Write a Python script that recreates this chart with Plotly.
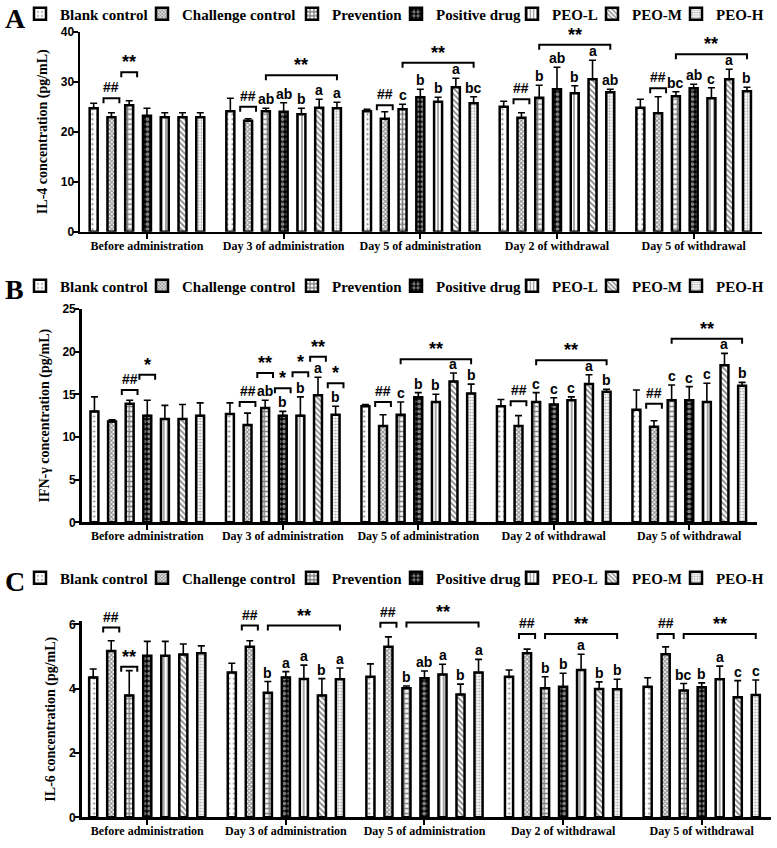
import plotly.graph_objects as go

W, H = 777, 848

# ---------------- data ----------------
categories = ["Before administration", "Day 3 of administration", "Day 5 of administration",
              "Day 2 of withdrawal", "Day 5 of withdrawal"]
series_names = ["Blank control", "Challenge control", "Prevention", "Positive drug",
                "PEO-L", "PEO-M", "PEO-H"]

# IL-4 (pg/mL) – rows follow series_names, columns follow categories
il4_mean = [
    [24.7, 24.1, 24.1, 25.0, 24.8],
    [22.9, 22.2, 22.6, 22.8, 23.7],
    [25.3, 24.1, 24.5, 26.8, 27.1],
    [23.2, 24.0, 26.9, 28.5, 28.7],
    [22.9, 23.5, 26.0, 27.7, 26.7],
    [22.9, 24.8, 28.9, 30.5, 30.5],
    [22.9, 24.7, 25.7, 27.9, 28.1],
]
il4_err = [
    [1.0, 2.6, 0.4, 1.1, 1.7],
    [0.9, 0.4, 1.4, 1.0, 3.3],
    [0.9, 0.6, 1.0, 2.5, 0.9],
    [1.5, 1.8, 1.6, 4.4, 0.8],
    [0.9, 1.2, 0.9, 1.5, 2.1],
    [0.9, 1.7, 1.8, 3.8, 2.0],
    [0.9, 1.2, 1.3, 0.6, 0.8],
]
il4_letters = [
    ["", "", "", "", ""],
    ["", "", "", "", ""],
    ["", "ab", "c", "b", "bc"],
    ["", "ab", "b", "ab", "ab"],
    ["", "b", "b", "b", "c"],
    ["", "a", "a", "a", "a"],
    ["", "a", "bc", "ab", "b"],
]
# (category, first bar, last bar, bracket height, mark)
il4_brackets = [(0, 1, 1, 26.7, "##"), (0, 2, 2, 31.9, "**"),
                (1, 1, 1, 25.0, "##"), (1, 2, 6, 31.3, "**"),
                (2, 1, 1, 25.3, "##"), (2, 2, 6, 33.8, "**"),
                (3, 1, 1, 26.5, "##"), (3, 2, 6, 37.4, "**"),
                (4, 1, 1, 28.7, "##"), (4, 2, 6, 35.5, "**")]

# IFN-gamma (pg/mL)
ifn_mean = [
    [13.0, 12.7, 13.6, 13.6, 13.2],
    [11.8, 11.4, 11.3, 11.3, 11.2],
    [13.9, 13.4, 12.6, 14.1, 14.3],
    [12.5, 12.5, 14.65, 13.8, 14.3],
    [12.1, 12.5, 14.1, 14.3, 14.1],
    [12.1, 14.9, 16.5, 16.2, 18.4],
    [12.5, 12.6, 15.1, 15.3, 16.0],
]
ifn_err = [
    [1.7, 1.3, 0.2, 0.8, 2.3],
    [0.2, 1.4, 1.3, 1.2, 0.7],
    [0.4, 0.9, 1.5, 1.1, 1.8],
    [1.8, 0.5, 0.55, 0.8, 1.6],
    [1.6, 2.2, 0.9, 0.4, 2.2],
    [1.7, 2.1, 1.0, 1.1, 1.4],
    [1.5, 1.0, 1.1, 0.3, 0.4],
]
ifn_letters = [
    ["", "", "", "", ""],
    ["", "", "", "", ""],
    ["", "ab", "c", "c", "c"],
    ["", "b", "b", "c", "c"],
    ["", "b", "b", "c", "c"],
    ["", "a", "a", "a", "a"],
    ["", "b", "b", "b", "b"],
]
ifn_brackets = [(0, 2, 2, 15.5, "##"), (0, 3, 3, 17.3, "*"),
                (1, 1, 1, 14.1, "##"), (1, 2, 2, 17.5, "**"), (1, 3, 3, 15.7, "*"),
                (1, 4, 4, 17.6, "*"), (1, 5, 5, 19.4, "**"), (1, 6, 6, 16.3, "*"),
                (2, 1, 1, 14.1, "##"), (2, 2, 6, 19.1, "**"),
                (3, 1, 1, 14.2, "##"), (3, 2, 6, 19.0, "**"),
                (4, 1, 1, 13.9, "##"), (4, 2, 6, 21.5, "**")]

# IL-6 (pg/mL)
il6_mean = [
    [4.35, 4.50, 4.37, 4.37, 4.06],
    [5.17, 5.30, 5.30, 5.10, 5.07],
    [3.79, 3.87, 4.01, 4.01, 3.94],
    [5.02, 4.35, 4.32, 4.06, 4.04],
    [5.02, 4.30, 4.44, 4.58, 4.29],
    [5.06, 3.79, 3.82, 3.99, 3.73],
    [5.10, 4.29, 4.50, 3.98, 3.80],
]
il6_err = [
    [0.26, 0.29, 0.40, 0.21, 0.28],
    [0.32, 0.19, 0.31, 0.13, 0.23],
    [0.77, 0.35, 0.07, 0.36, 0.22],
    [0.45, 0.18, 0.23, 0.42, 0.14],
    [0.45, 0.43, 0.32, 0.49, 0.41],
    [0.33, 0.52, 0.32, 0.22, 0.52],
    [0.23, 0.35, 0.41, 0.31, 0.47],
]
il6_letters = [
    ["", "", "", "", ""],
    ["", "", "", "", ""],
    ["", "b", "b", "b", "bc"],
    ["", "a", "ab", "b", "b"],
    ["", "a", "a", "a", "a"],
    ["", "b", "b", "b", "c"],
    ["", "a", "a", "b", "c"],
]
il6_brackets = [(0, 1, 1, 5.90, "##"), (0, 2, 2, 4.68, "**"),
                (1, 1, 1, 5.96, "##"), (1, 2, 6, 5.96, "**"),
                (2, 1, 1, 6.05, "##"), (2, 2, 6, 6.06, "**"),
                (3, 1, 1, 5.70, "##"), (3, 2, 6, 5.70, "**"),
                (4, 1, 1, 5.70, "##"), (4, 2, 6, 5.70, "**")]

y_titles = ["IL-4 concentration (pg/mL)", "IFN-\u03b3 concentration (pg/mL)", "IL-6 concentration (pg/mL)"]
y_ticks = [[0, 10, 20, 30, 40], [0, 5, 10, 15, 20, 25], [0, 2, 4, 6]]
panel_labels = ["A", "B", "C"]

# ---------------- styles ----------------
SERIF = "Liberation Serif"
SANS = "Liberation Sans"
styles = [
    dict(color="white", pattern=dict(shape=".", fgcolor="black", bgcolor="white", size=5, solidity=0.15)),
    dict(color="white", pattern=dict(shape="x", fgcolor="#222222", bgcolor="white", size=3, solidity=0.6)),
    dict(color="white", pattern=dict(shape="+", fgcolor="black", bgcolor="white", size=5, solidity=0.55)),
    dict(color="black", pattern=dict(shape=".", fgcolor="white", bgcolor="black", size=5, solidity=0.5)),
    dict(color="white", pattern=dict(shape="|", fgcolor="black", bgcolor="white", size=4, solidity=0.35)),
    dict(color="white", pattern=dict(shape="\\", fgcolor="black", bgcolor="white", size=4, solidity=0.4)),
    dict(color="white", pattern=dict(shape=".", fgcolor="#555555", bgcolor="white", size=3, solidity=0.4)),
]
legend_widths = [77, 105, 59, 71, 35, 39, 52]

panels = [
    dict(mean=il4_mean, err=il4_err, letters=il4_letters, brackets=il4_brackets,
         xpx=(80, 762), xr=[-0.49, 4.5], ypx=(231.7, 31.7), yr=[0, 40], leg_y=14, lab_y=1),
    dict(mean=ifn_mean, err=ifn_err, letters=ifn_letters, brackets=ifn_brackets,
         xpx=(81.7, 757), xr=[-0.484, 4.5], ypx=(522.3, 309), yr=[0, 25], leg_y=286, lab_y=272),
    dict(mean=il6_mean, err=il6_err, letters=il6_letters, brackets=il6_brackets,
         xpx=(81.7, 771), xr=[-0.473, 4.5], ypx=(817.3, 621.1), yr=[0, 6.1], leg_y=578, lab_y=564),
]

BARGAP = 0.09
BARGROUPGAP = 0.55
nser = len(series_names)
slot = (1 - BARGAP) / nser

fig = go.Figure()
layout = dict(width=W, height=H, margin=dict(l=0, r=0, t=0, b=0, autoexpand=False),
              paper_bgcolor="white", plot_bgcolor="white",
              barmode="group", bargap=BARGAP, bargroupgap=BARGROUPGAP,
              showlegend=True)
annotations = []
shapes = []

for p, pn in enumerate(panels):
    sfx = "" if p == 0 else str(p + 1)
    xa, ya, lg = "x" + sfx, "y" + sfx, "legend" + sfx
    for i, name in enumerate(series_names):
        st = styles[i]
        fig.add_trace(go.Bar(
            x=list(range(len(categories))), y=pn["mean"][i], name=name,
            xaxis=xa, yaxis=ya, legend=lg, legendwidth=legend_widths[i],
            marker=dict(color=st["color"], line=dict(color="black", width=2.5), pattern=st["pattern"]),
            error_y=dict(type="data", symmetric=False, array=pn["err"][i],
                         arrayminus=[0] * len(categories), color="black", thickness=1.6, width=3.5),
            hoverinfo="skip"))
        # significance letters above error bars
        for g, txt in enumerate(pn["letters"][i]):
            if txt:
                annotations.append(dict(
                    x=g + (i - (nser - 1) / 2) * slot, y=pn["mean"][i][g] + pn["err"][i][g],
                    xref=xa, yref=ya, text=txt, showarrow=False, yanchor="bottom", yshift=-1,
                    font=dict(family=SANS, size=14, color="black", weight="bold")))
    # brackets
    for (g, b0, b1, h, mark) in pn["brackets"]:
        xs = g + (b0 - (nser - 1) / 2) * slot
        xe = g + (b1 - (nser - 1) / 2) * slot
        if b0 == b1:
            xs, xe = xs - 0.058, xe + 0.058
        shapes.append(dict(type="path", xref=xa, yref=ya, ysizemode="pixel", yanchor=h,
                           path=f"M{xs},-5 L{xs},0 L{xe},0 L{xe},-5",
                           line=dict(color="black", width=2)))
        annotations.append(dict(x=(xs + xe) / 2, y=h, xref=xa, yref=ya, text=mark, showarrow=False,
                                yanchor="bottom", yshift=1 if mark == "##" else -2,
                                font=dict(family=SANS, size=14 if mark == "##" else 18,
                                          color="black", weight="bold")))
    x0, x1 = pn["xpx"]
    yb, yt = pn["ypx"]
    layout["xaxis" + sfx] = dict(
        domain=[x0 / W, x1 / W], range=pn["xr"], anchor=ya,
        tickmode="array", tickvals=list(range(len(categories))), ticktext=categories,
        showline=True, linecolor="black", linewidth=2.5, ticks="outside", ticklen=5,
        tickwidth=2, tickcolor="black", showgrid=False, zeroline=False, fixedrange=True,
        ticklabelstandoff=-4,
        tickfont=dict(family=SERIF, size=12, color="black", weight="bold"))
    layout["yaxis" + sfx] = dict(
        domain=[1 - yb / H, 1 - yt / H], range=pn["yr"], anchor=xa,
        tickmode="array", tickvals=y_ticks[p],
        showline=True, linecolor="black", linewidth=2.5, ticks="outside", ticklen=5,
        tickwidth=2, tickcolor="black", showgrid=False, zeroline=False, fixedrange=True,
        ticklabelstandoff=-4,
        tickfont=dict(family=SANS, size=12, color="black", weight="bold"),
        title=dict(text=y_titles[p], standoff=10,
                   font=dict(family=SERIF, size=14, color="black", weight="bold")))
    layout[lg] = dict(orientation="h", x=20 / W, xanchor="left", y=1 - pn["leg_y"] / H,
                      yanchor="middle", bgcolor="rgba(0,0,0,0)", traceorder="normal",
                      font=dict(family=SERIF, size=15, color="black", weight="bold"))
    annotations.append(dict(x=3 / W, y=1 - pn["lab_y"] / H, xref="paper", yref="paper",
                            text=panel_labels[p], showarrow=False, xanchor="left", yanchor="top",
                            font=dict(family=SERIF, size=28, color="black", weight="bold")))

layout["annotations"] = annotations
layout["shapes"] = shapes
fig.update_layout(**layout)
fig.write_html("out.html",
               config={"displayModeBar": False, "staticPlot": True},
               post_script="document.body.style.margin='0';document.body.style.overflow='hidden';")
